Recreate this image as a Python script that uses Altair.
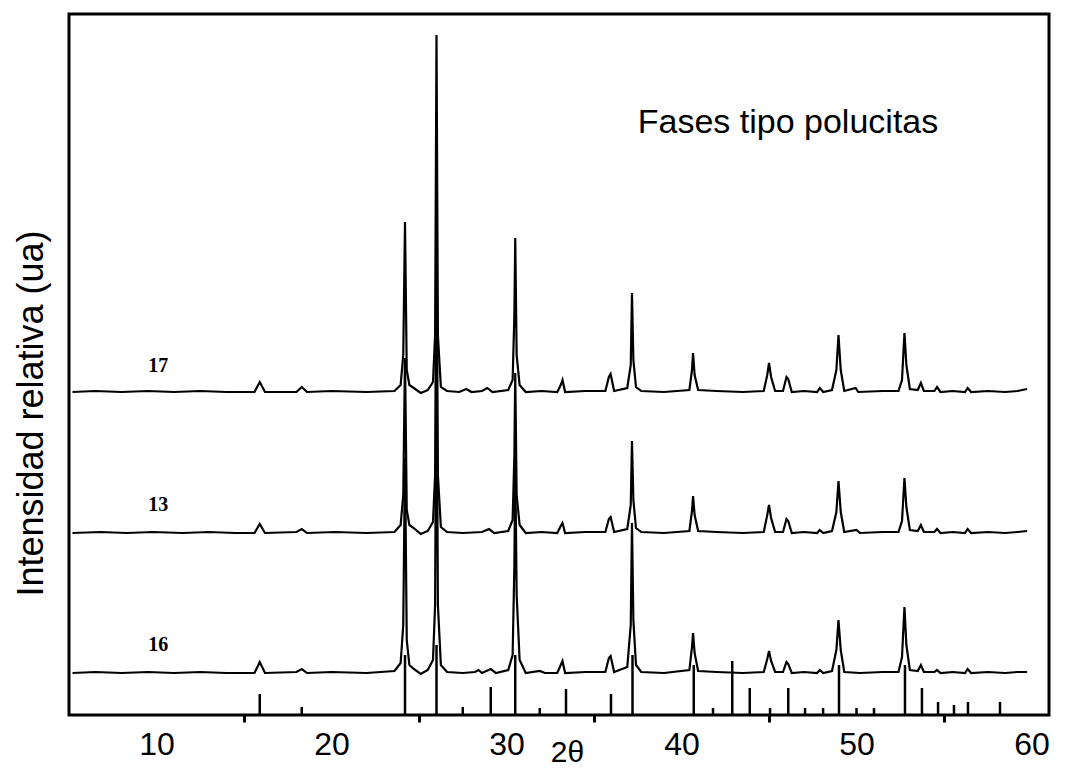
import altair as alt
import pandas as pd

# ---- data (2θ in degrees, intensity in arbitrary units) ----
trace_17 = [
    (5.2, 323), (6.5, 324), (8.0, 323), (9.5, 324), (11.0, 323), (12.5, 324), (14.0, 323),
    (15.6, 323), (15.9, 333), (16.2, 323), (18.0, 323), (18.3, 328), (18.6, 323),
    (20.0, 324), (22.0, 323), (23.6, 324), (23.95, 330), (24.1, 360), (24.2, 493),
    (24.3, 345), (24.45, 330), (24.7, 327), (25.1, 322), (25.5, 325), (25.8, 333),
    (25.92, 380), (26.0, 680), (26.08, 380), (26.25, 328), (26.6, 324), (27.3, 323),
    (27.7, 326), (28.0, 323), (28.6, 324), (28.9, 327), (29.2, 323), (30.1, 325),
    (30.35, 335), (30.45, 400), (30.5, 477), (30.58, 360), (30.75, 330), (31.1, 323),
    (32.0, 324), (32.9, 323), (33.1, 330), (33.2, 335), (33.35, 323), (34.5, 324),
    (35.65, 324), (35.85, 338), (35.95, 341), (36.15, 324), (36.9, 327), (37.1, 350),
    (37.17, 422), (37.25, 355), (37.4, 328), (37.7, 324), (39.0, 323), (40.45, 325),
    (40.6, 345), (40.66, 362), (40.75, 340), (40.95, 325), (42.0, 324), (43.5, 323),
    (44.7, 324), (44.9, 340), (45.0, 352), (45.12, 338), (45.35, 324), (45.8, 324),
    (46.0, 338), (46.1, 336), (46.3, 323), (47.0, 324), (47.75, 323), (47.9, 327),
    (48.1, 323), (48.6, 325), (48.85, 345), (48.97, 380), (49.1, 345), (49.3, 324),
    (49.95, 327), (50.1, 323), (51.5, 324), (52.4, 324), (52.6, 335), (52.74, 382),
    (52.85, 350), (53.05, 326), (53.5, 325), (53.68, 332), (53.85, 324), (54.45, 324),
    (54.6, 328), (54.8, 323), (55.5, 324), (56.2, 323), (56.35, 327), (56.55, 323),
    (57.5, 324), (58.5, 323), (59.2, 324), (59.75, 326),
]

trace_13 = [
    (5.2, 182), (6.8, 183), (8.3, 182), (9.8, 183), (11.5, 182), (13.0, 183), (14.5, 182),
    (15.6, 182), (15.9, 191), (16.2, 182), (18.0, 183), (18.3, 186), (18.6, 182),
    (20.2, 183), (22.0, 182), (23.6, 183), (23.95, 190), (24.1, 220), (24.2, 357),
    (24.3, 205), (24.45, 190), (24.7, 187), (25.1, 181), (25.5, 184), (25.8, 193),
    (25.92, 240), (26.0, 512), (26.08, 240), (26.25, 188), (26.6, 183), (27.5, 182),
    (28.6, 183), (29.0, 186), (29.3, 182), (30.1, 184), (30.35, 195), (30.45, 260),
    (30.5, 342), (30.58, 220), (30.75, 190), (31.1, 182), (32.0, 183), (32.9, 182),
    (33.1, 189), (33.2, 192), (33.35, 182), (34.5, 183), (35.65, 183), (35.85, 196),
    (35.95, 198), (36.15, 183), (36.9, 186), (37.1, 210), (37.17, 274), (37.25, 215),
    (37.4, 187), (37.7, 183), (39.0, 182), (40.45, 184), (40.6, 204), (40.66, 219),
    (40.75, 200), (40.95, 184), (42.0, 183), (43.5, 182), (44.7, 183), (44.9, 200),
    (45.0, 210), (45.12, 197), (45.35, 183), (45.8, 183), (46.0, 196), (46.1, 194),
    (46.3, 182), (47.0, 183), (47.75, 182), (47.9, 185), (48.1, 182), (48.6, 184),
    (48.85, 203), (48.97, 234), (49.1, 203), (49.3, 183), (50.0, 185), (50.2, 182),
    (51.5, 183), (52.4, 183), (52.6, 194), (52.74, 237), (52.85, 208), (53.05, 185),
    (53.5, 184), (53.68, 190), (53.85, 183), (54.45, 183), (54.6, 186), (54.8, 182),
    (55.5, 183), (56.2, 182), (56.35, 186), (56.55, 182), (57.5, 183), (58.5, 182),
    (59.2, 183), (59.75, 184),
]

trace_16 = [
    (5.2, 42), (6.5, 43), (8.0, 42), (9.5, 43), (11.0, 42), (12.5, 43), (14.0, 42),
    (15.6, 42), (15.9, 53), (16.2, 42), (18.0, 43), (18.3, 46), (18.6, 42),
    (20.0, 43), (22.0, 42), (23.6, 44), (23.95, 52), (24.1, 90), (24.2, 257),
    (24.3, 75), (24.45, 50), (24.7, 46), (25.1, 41), (25.5, 45), (25.8, 55),
    (25.92, 110), (26.0, 387), (26.08, 110), (26.25, 50), (26.6, 43), (27.5, 42),
    (28.2, 43), (28.4, 45), (28.6, 42), (29.1, 46), (29.4, 42), (30.1, 45),
    (30.35, 60), (30.45, 150), (30.5, 252), (30.58, 120), (30.75, 55), (31.1, 42),
    (31.9, 44), (32.2, 42), (32.9, 42), (33.1, 50), (33.2, 54), (33.35, 42),
    (34.5, 43), (35.65, 43), (35.85, 57), (35.95, 59), (36.15, 43), (36.9, 48),
    (37.1, 90), (37.17, 192), (37.25, 95), (37.4, 50), (37.7, 43), (39.0, 42),
    (40.45, 45), (40.6, 68), (40.66, 82), (40.75, 62), (40.95, 44), (42.0, 43),
    (43.5, 42), (44.7, 43), (44.9, 56), (45.0, 64), (45.12, 54), (45.35, 43),
    (45.8, 43), (46.0, 53), (46.1, 51), (46.3, 42), (47.0, 43), (47.75, 42),
    (47.9, 45), (48.1, 42), (48.6, 44), (48.85, 65), (48.97, 95), (49.1, 65),
    (49.3, 43), (50.2, 42), (51.5, 43), (52.4, 43), (52.6, 58), (52.74, 108),
    (52.85, 70), (53.05, 45), (53.5, 44), (53.68, 50), (53.85, 43), (54.45, 43),
    (54.6, 45), (54.8, 42), (55.5, 43), (56.2, 42), (56.35, 46), (56.55, 42),
    (57.5, 43), (58.5, 42), (59.2, 43), (59.75, 43),
]

# reference pattern (pollucite) sticks: position, relative height
ref_pos = [15.9, 18.3, 24.2, 26.0, 27.5, 29.1, 30.5, 31.9, 33.4, 35.97, 37.2, 40.7,
           41.8, 42.9, 43.9, 45.06, 46.1, 47.06, 48.09, 49.0, 50.0, 51.0, 52.77,
           53.74, 54.66, 55.57, 56.37, 58.2]
ref_int = [21, 8, 60, 70, 8, 28, 60, 7, 26, 21, 60, 50,
           7, 54, 27, 7, 27, 7, 7, 50, 7, 7, 50,
           27, 13, 10, 13, 13]

sample_names = ["17", "13", "16"]
sample_label_x = [10.1, 10.1, 10.1]
sample_label_y = [349, 210, 70]

note_text = ["Fases tipo polucitas"]
note_x = [37.5]
note_y = [582]

x_ticks = [10, 15, 20, 25, 30, 35, 40, 45, 50, 55, 60]

# ---- tables ----
rows = []
for name, pts in zip(sample_names, [trace_17, trace_13, trace_16]):
    for i, (tx, ty) in enumerate(pts):
        rows.append({"muestra": name, "dos_theta": tx, "intensidad": ty, "orden": i})
df_traces = pd.DataFrame(rows)
df_ref = pd.DataFrame({"dos_theta": ref_pos, "intensidad": ref_int, "base": [0] * len(ref_pos)})
df_labels = pd.DataFrame({"muestra": sample_names, "dos_theta": sample_label_x, "intensidad": sample_label_y})
df_note = pd.DataFrame({"texto": note_text, "dos_theta": note_x, "intensidad": note_y})

x_scale = alt.Scale(domain=[5, 61], nice=False, zero=False)
y_scale = alt.Scale(domain=[0, 701], nice=False, zero=False)

x_axis = alt.Axis(
    values=x_ticks,
    labelExpr="datum.value % 10 == 0 ? datum.label : ''",
    tickOpacity={"condition": {"test": "datum.value % 10 == 0", "value": 0}, "value": 1},
    tickSize=7, tickWidth=3, tickColor="black",
    domain=False, grid=False,
    labelFontSize=32, labelFont="Liberation Sans", labelColor="black",
    labelPadding=7, labelOverlap=False, labelFlush=False,
    title="2θ", titleFontSize=30, titleFont="Liberation Sans", titleFontWeight="normal",
    titleColor="black", titleX=498, titleY=46, titleAlign="center", titleBaseline="alphabetic",
)
y_axis = alt.Axis(
    labels=False, ticks=False, domain=False, grid=False,
    title="Intensidad relativa (ua)", titleFontSize=36, titleFont="Liberation Sans",
    titleFontWeight="normal", titleColor="black", titleAngle=-90,
    titleX=-27, titleY=399, titleAlign="center", titleBaseline="alphabetic",
)

traces = alt.Chart(df_traces).mark_line(strokeWidth=2.2, color="black").encode(
    x=alt.X("dos_theta:Q", scale=x_scale, axis=x_axis),
    y=alt.Y("intensidad:Q", scale=y_scale, axis=y_axis),
    detail="muestra:N",
    order="orden:Q",
)

sticks = alt.Chart(df_ref).mark_rule(strokeWidth=2.5, color="black").encode(
    x=alt.X("dos_theta:Q", scale=x_scale),
    y=alt.Y("base:Q", scale=y_scale),
    y2="intensidad:Q",
)

labels = alt.Chart(df_labels).mark_text(
    font="Liberation Serif", fontSize=20, fontWeight="bold", color="black",
    align="center", baseline="middle",
).encode(
    x=alt.X("dos_theta:Q", scale=x_scale),
    y=alt.Y("intensidad:Q", scale=y_scale),
    text="muestra:N",
)

note = alt.Chart(df_note).mark_text(
    font="Liberation Sans", fontSize=34, color="black", align="left", baseline="alphabetic",
).encode(
    x=alt.X("dos_theta:Q", scale=x_scale),
    y=alt.Y("intensidad:Q", scale=y_scale),
    text="texto:N",
)

chart = alt.layer(traces, sticks, labels, note).properties(
    width=980, height=701,
    autosize=alt.AutoSizeParams(type="none"),
    padding={"left": 61, "top": 6, "right": 14, "bottom": 55},
    background="white",
).configure_view(
    stroke="black", strokeWidth=3,
)

chart.save("out.html", embed_options={"renderer": "svg", "actions": False})
